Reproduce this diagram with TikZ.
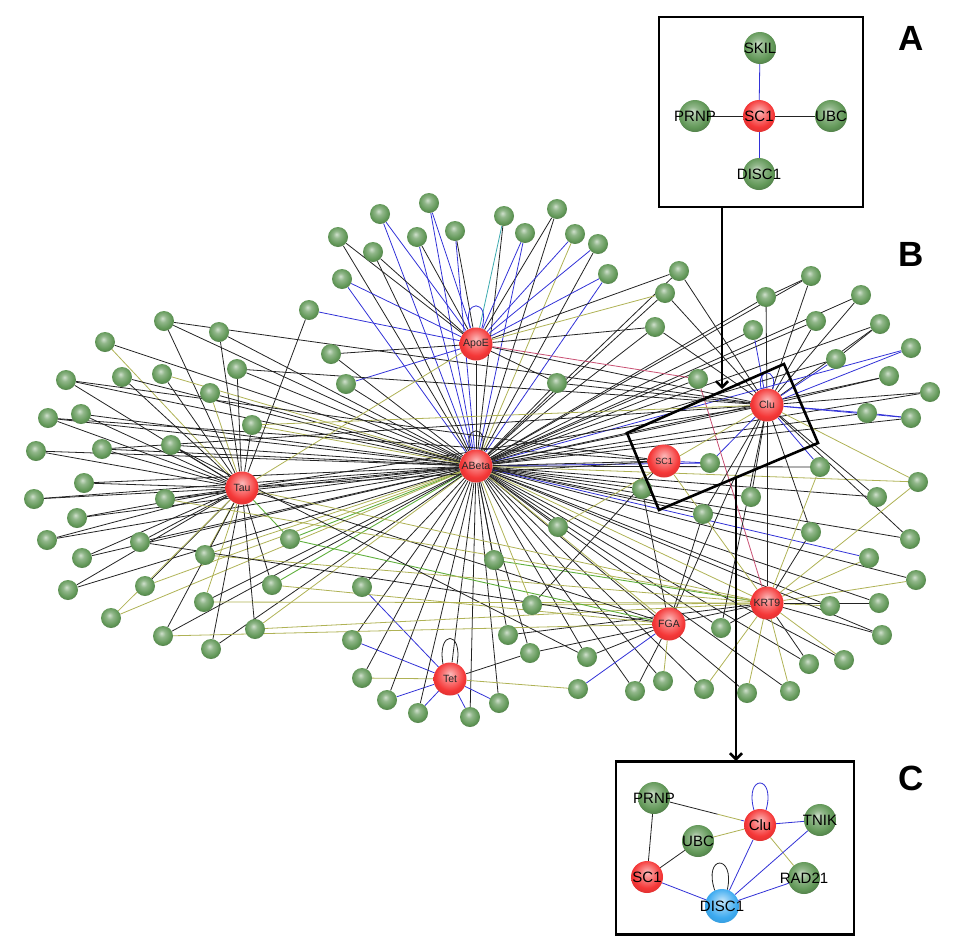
\documentclass[tikz,border=0pt]{standalone}
\usepackage{fontspec}
\setmainfont{Liberation Sans}
\usetikzlibrary{arrows.meta,calc}
\pgfdeclarelayer{bg}
\pgfdeclarelayer{insetedges}
\pgfdeclarelayer{insetnodes}
\pgfsetlayers{bg,main,insetedges,insetnodes}
\definecolor{gcol}{RGB}{98,152,88}
\definecolor{rcol}{RGB}{245,55,55}
\definecolor{bcol}{RGB}{60,170,240}
\definecolor{ck}{RGB}{35,35,35}
\definecolor{cb}{RGB}{50,50,215}
\definecolor{cy}{RGB}{175,178,85}
\definecolor{cg}{RGB}{95,175,60}
\definecolor{cp}{RGB}{200,80,115}
\definecolor{ct}{RGB}{60,170,175}
\pgfdeclareradialshading{gsh}{\pgfpoint{-4bp}{7bp}}{color(0bp)=(gcol!30!white); color(9bp)=(gcol!70!white); color(22bp)=(gcol); color(31bp)=(gcol!78!black); color(50bp)=(gcol!78!black)}
\pgfdeclareradialshading{rsh}{\pgfpoint{0bp}{8bp}}{color(0bp)=(rcol!35!white); color(9bp)=(rcol!62!white); color(22bp)=(rcol); color(31bp)=(rcol!88!black); color(50bp)=(rcol!88!black)}
\pgfdeclareradialshading{bsh}{\pgfpoint{0bp}{8bp}}{color(0bp)=(bcol!30!white); color(9bp)=(bcol!60!white); color(22bp)=(bcol); color(31bp)=(bcol!90!black); color(50bp)=(bcol!90!black)}
\begin{document}
\begin{tikzpicture}[x=1pt,y=-1pt,
  gn/.style={circle,shading=gsh,minimum size=20,inner sep=0pt},
  hub/.style={circle,shading=rsh,minimum size=33,inner sep=0pt},
  hublab/.style={font=\fontsize{10.5}{11}\selectfont,text=black!85,inner sep=0pt},
  ig/.style={circle,shading=gsh,minimum size=32,inner sep=0pt},
  ir/.style={circle,shading=rsh,minimum size=32,inner sep=0pt},
  ib/.style={circle,shading=bsh,minimum size=34,inner sep=0pt},
  ilab/.style={font=\fontsize{15}{15}\selectfont,text=black,inner sep=0pt},
  ek/.style={draw=ck,line width=0.8pt},
  eb/.style={draw=cb,line width=0.8pt},
  ey/.style={draw=cy,line width=0.8pt},
  eg/.style={draw=cg,line width=0.9pt},
  ep/.style={draw=cp,line width=0.8pt},
  et/.style={draw=ct,line width=0.8pt},
  en/.style={draw=none},
  frame/.style={draw=black,line width=2.6pt,fill=white,inner sep=0pt},
  tiltbox/.style={draw=black,line width=2.6pt,line join=miter},
  bigarrow/.style={draw=black,line width=2.6pt,-{Straight Barb[length=6pt,width=12pt]}},
  letter/.style={font=\fontsize{35}{35}\selectfont\bfseries,inner sep=0pt}
]
\useasboundingbox (0,0) rectangle (960,945);

% ---------- green nodes of the network ----------
\foreach \nm/\x/\y in {
 L1/164/321, L2/219/332, L3/105/342, L4/66/380, L5/122/377, L6/162/374, L7/237/369,
 L8/210/393, L9/48/418, L10/81/414, L11/252/425, L12/36/451, L13/102/449, L14/171/445,
 L15/84/483, L16/34/499, L17/165/499, L18/77/518, L19/47/540, L20/140/542, L21/290/539,
 L22/82/558, L23/205/555, L24/68/590, L25/145/586, L26/272/585, L27/204/602, L28/111/618,
 L29/255/629, L30/163/636, L31/211/649,
 A0/309/310, A1/429/203, A2/380/214, A3/504/216, A4/557/209, A5/338/237, A6/417/237,
 A7/455/231, A8/525/233, A9/575/234, A10/598/244, A11/373/252, A12/342/279, A13/608/274,
 A14/331/354, A15/346/384, A16/557/383,
 R1/679/271, R2/665/293, R3/811/276, R4/766/297, R5/861/295, R6/655/327, R7/753/330,
 R8/816/321, R9/880/324, R10/911/348, R11/836/359, R12/889/376, R13/930/392, R14/698/379,
 R15/867/413, R16/911/418, R17/710/463, R18/820/467, R19/918/482, R20/642/489, R21/751/497,
 R22/877/497, R23/703/514, R24/811/532, R25/910/539,
 K1/869/558, K2/916/580, K3/830/606, K4/879/603, K5/882/635, K6/721/628, K7/809/664,
 K8/844/660, K9/663/681, K10/635/691, K11/704/689, K12/747/693, K13/790/691,
 T1/362/587, T2/352/640, T3/362/678, T4/387/700, T5/418/713, T6/470/717, T7/499/703,
 M1/558/527, M2/494/560, M3/532/605, M4/508/635, M5/530/653, M6/587/657, M7/578/689}
 {\node[gn] (\nm) at (\x,\y) {};}

% ---------- red hubs ----------
\foreach \nm/\x/\y/\t in {ABeta/476/466/ABeta, ApoE/476/344/ApoE, Tau/242/488/Tau,
  Tet/450/679/Tet, FGA/669/624/FGA, KRT9/767/603/KRT9, Clu/767/405/Clu}
 {\node[hub,label={[hublab]center:\t}] (\nm) at (\x,\y) {};}
\node[hub,label={[hublab,font=\fontsize{9}{9}\selectfont]center:SC1}] (SC1) at (664,461) {};

% ---------- edges ----------
\begin{pgfonlayer}{bg}
\foreach \a/\ca/\cb in {
 L1/ek/ek, L2/ek/ek, L3/ey/ek, L4/ek/ek, L5/ek/ek, L6/ek/ey, L7/ek/ek, L8/ey/ek,
 L9/ek/ek, L10/ek/ek, L11/ek/ey, L12/ek/ek, L13/ek/ek, L14/ek/ek, L15/ek/ek, L16/ek/ek,
 L17/ek/ek, L18/ek/ek, L19/ek/ek, L20/ek/ek, L21/eg/eg, L22/ek/ek, L23/ey/ey, L24/ek/ek,
 L25/ek/ey, L26/ek/eg, L27/ey/ek, L28/ey/ey, L29/ek/ey, L30/ek/ek, L31/ek/ek}
 {\draw[\ca] (\a) -- (Tau); \draw[\cb] (\a) -- (ABeta);}
\foreach \a/\ca/\cb in {
 A0/eb/en, A1/eb/eb, A2/eb/eb, A3/et/ek, A4/ek/ek, A5/ek/ek, A6/ek/eb, A7/ek/eb,
 A8/eb/eb, A9/eb/ey, A10/eb/ek, A11/ek/ek, A12/eb/eb, A13/eb/eb, A14/ek/ek, A15/eb/ek,
 A16/ek/ek}
 {\draw[\ca] (\a) -- (ApoE); \draw[\cb] (\a) -- (ABeta);}
\foreach \a/\ca/\cb in {
 R1/ek/ek, R2/ek/ek, R3/ek/ek, R4/ek/ek, R5/ek/ek, R6/ek/ek, R7/eb/ek, R8/ek/ek,
 R9/ek/ek, R10/eb/eb, R11/eb/ek, R12/ek/ek, R13/ek/ek, R14/en/ek, R15/eb/ek, R16/eb/ek,
 R17/eb/eb, R18/eb/ek, R19/ey/ey, R20/en/ek, R21/ek/ek, R22/ek/ek, R23/ek/ek, R24/ek/ek,
 R25/ek/ek}
 {\draw[\ca] (\a) -- (Clu); \draw[\cb] (\a) -- (ABeta);}
\foreach \a/\ca/\cb in {
 K1/ey/eb, K2/ey/ek, K3/ey/ek, K4/ek/ek, K5/ek/ek, K6/ek/ek, K7/ek/ek, K8/ey/ek,
 K11/ey/ek, K12/ey/ek, K13/ey/ek, R19/ey/en, R24/ek/en, M2/eg/ek, M3/ey/ey, M4/ek/ek,
 M5/ek/ek, R18/ey/en}
 {\draw[\ca] (\a) -- (KRT9); \draw[\cb] (\a) -- (ABeta);}
\foreach \a/\ca/\cb in {
 K9/ey/ek, K10/ek/ek, M6/ek/ek, M7/eb/en, R20/ek/en, R23/ek/en}
 {\draw[\ca] (\a) -- (FGA); \draw[\cb] (\a) -- (ABeta);}
\foreach \a/\ca/\cb in {
 T1/eb/ek, T2/eb/ek, T3/ey/ek, T4/eb/ek, T5/eb/ek, T6/eb/ek, T7/eb/ek, M5/ek/en, M7/ey/en}
 {\draw[\ca] (\a) -- (Tet); \draw[\cb] (\a) -- (ABeta);}
\foreach \a/\b/\c in {
 Tau/ABeta/ek, Tau/Clu/ek, Tau/SC1/ek, Tau/FGA/ek, Tau/KRT9/ey, A0/Tau/ek,
 ABeta/ApoE/ek, ABeta/Clu/ek, ABeta/SC1/ek, ABeta/FGA/ey, ABeta/KRT9/ey, ABeta/Tet/ek,
 ApoE/Clu/ek, Clu/KRT9/ek, Clu/FGA/ek, SC1/R17/eb, SC1/KRT9/ey, ApoE/R14/ep, R14/KRT9/ep,
 R6/ApoE/ek, R1/ApoE/ek, R2/ApoE/ey, A16/Clu/ek, M1/Clu/ey, M1/ABeta/ek, M3/SC1/ek,
 L13/Clu/ek, L9/SC1/ek, L26/FGA/ey, L29/KRT9/ey, L21/FGA/eg, L23/KRT9/ey, L11/Clu/ey,
 L7/Clu/ek, L17/KRT9/ey, L20/FGA/ek, L14/M6/ek, K6/Clu/ek, R3/R4/ek, R9/R11/ek,
 R16/R15/eb, L1/Clu/ek, L4/SC1/ek, Tau/ApoE/ey, L30/FGA/ey, L27/KRT9/ey}
 {\draw[\c] (\a) -- (\b);}
% self loops
\draw[eb] (ApoE.110) .. controls +(-10,-30) and +(10,-30) .. (ApoE.70);
\draw[ek] (ABeta.110) .. controls +(-8,-26) and +(8,-26) .. (ABeta.70);
\draw[ek] (Tet.115) .. controls +(-6,-34) and +(6,-34) .. (Tet.65);
\draw[eb] (Clu.110) .. controls +(-6,-22) and +(6,-22) .. (Clu.70);
\end{pgfonlayer}

% ---------- tilted highlight box ----------
\coordinate (t1) at (627,433);
\coordinate (t2) at (784,364);
\coordinate (t3) at (818,443);
\coordinate (t4) at (659,510);
\draw[tiltbox] (t1) -- (t2) -- (t3) -- (t4) -- cycle;

% ---------- frames ----------
\node[frame,minimum width=204,minimum height=190] (boxA) at (761,112) {};
\node[frame,minimum width=238,minimum height=173] (boxC) at (735,848) {};

% ---------- arrows ----------
\coordinate (ar1s) at (722,207);
\coordinate (ar1e) at (722,389);
\coordinate (ar2s) at (736,477);
\coordinate (ar2e) at (736,761);
\draw[bigarrow] (ar1s) -- (ar1e);
\draw[bigarrow] (ar2s) -- (ar2e);

% ---------- panel letters ----------
\node[letter] (labA) at (911,38) {A};
\node[letter] (labB) at (911,254) {B};
\node[letter] (labC) at (911,778) {C};

% ---------- inset nodes ----------
\begin{pgfonlayer}{insetnodes}
\node[ig,label={[ilab]center:SKIL}] (aSKIL) at (760,48) {};
\node[ig,label={[ilab]center:PRNP}] (aPRNP) at (695,116) {};
\node[ir,label={[ilab]center:SC1}] (aSC1) at (759,116) {};
\node[ig,label={[ilab]center:UBC}] (aUBC) at (831,116) {};
\node[ig,label={[ilab]center:DISC1}] (aDISC1) at (759,174) {};

\node[ig,label={[ilab]center:PRNP}] (cPRNP) at (654,798) {};
\node[ir,label={[ilab]center:Clu}] (cClu) at (760,825) {};
\node[ig,label={[ilab]center:TNIK}] (cTNIK) at (820,820) {};
\node[ig,label={[ilab]center:UBC}] (cUBC) at (698,841) {};
\node[ir,label={[ilab]center:SC1}] (cSC1) at (647,877) {};
\node[ig,label={[ilab]center:RAD21}] (cRAD21) at (804,878) {};
\node[ib,label={[ilab]center:DISC1}] (cDISC1) at (722,906) {};
\end{pgfonlayer}

% ---------- inset edges ----------
\begin{pgfonlayer}{insetedges}
\draw[eb] (aSC1) -- (aSKIL);
\draw[eb] (aSC1) -- (aDISC1);
\draw[ek] (aSC1) -- (aPRNP);
\draw[ek] (aSC1) -- (aUBC);

\draw[ek] (cPRNP) -- (cSC1);
\draw[ek] (cUBC) -- (cSC1);
\draw[ek] (cPRNP) -- ($(cPRNP)!0.6!(cClu)$);
\draw[ey] ($(cPRNP)!0.6!(cClu)$) -- ($(cPRNP)!0.82!(cClu)$);
\draw[eb] ($(cPRNP)!0.82!(cClu)$) -- (cClu);
\draw[ey] (cUBC) -- (cClu);
\draw[eb] (cClu) -- (cTNIK);
\draw[eb] (cClu) -- (cDISC1);
\draw[ey] (cClu) -- (cRAD21);
\draw[eb] (cTNIK) -- (cDISC1);
\draw[eb] (cRAD21) -- (cDISC1);
\draw[eb] (cSC1) -- (cDISC1);
\draw[eb] (cClu.112) .. controls +(-10,-36) and +(10,-36) .. (cClu.68);
\draw[ek] (cDISC1.115) .. controls +(-12,-36) and +(8,-36) .. (cDISC1.72);
\end{pgfonlayer}
\end{tikzpicture}
\end{document}
